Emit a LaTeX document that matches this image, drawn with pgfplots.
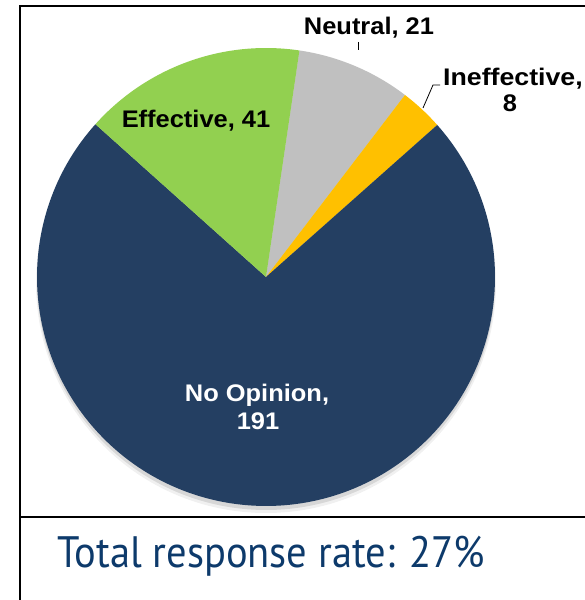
\documentclass[border=0pt]{standalone}
\usepackage{fontspec}
\setmainfont{Liberation Sans}
\newfontfamily\totfont{PT Sans}
\usepackage{pgfplots}
\usepackage{pgfplotstable}
\pgfplotsset{compat=1.18}
\definecolor{cNavy}{HTML}{243F62}
\definecolor{cGreen}{HTML}{92D050}
\definecolor{cGrey}{HTML}{C0C0C0}
\definecolor{cYellow}{HTML}{FFC000}
\definecolor{cTot}{HTML}{0D3A6B}
\pgfplotstableread{
label value
Neutral 21
Ineffective 8
NoOpinion 191
Effective 41
}\piedata
\begin{document}
\begin{tikzpicture}
\pgfplotstablegetelem{0}{value}\of\piedata\edef\vA{\pgfplotsretval}
\pgfplotstablegetelem{1}{value}\of\piedata\edef\vB{\pgfplotsretval}
\pgfplotstablegetelem{2}{value}\of\piedata\edef\vC{\pgfplotsretval}
\pgfplotstablegetelem{3}{value}\of\piedata\edef\vD{\pgfplotsretval}
\pgfmathsetmacro\tot{\vA+\vB+\vC+\vD}
\pgfmathsetmacro\unitang{360/\tot}
\pgfmathsetmacro\aA{81.6}
\pgfmathsetmacro\aB{\aA-\unitang*\vA}
\pgfmathsetmacro\aC{\aB-\unitang*\vB}
\pgfmathsetmacro\aD{\aC-\unitang*\vC}
\pgfmathsetmacro\aE{\aD-\unitang*\vD}
\begin{axis}[
  width=585pt, height=600pt, scale only axis,
  xmin=0, xmax=585, ymin=0, ymax=600, enlargelimits=false,
  axis lines=none, clip=false,
]
\fill[white] (axis cs:0,0) rectangle (axis cs:585,600);
% shadow
\fill[black,opacity=0.06] (axis cs:266,317) circle[radius=230pt];
\fill[black,opacity=0.10] (axis cs:266,319) circle[radius=229pt];
% slices
\fill[cGrey] (axis cs:266,323) -- ++(\aA:229pt) arc[start angle=\aA, end angle=\aB, radius=229pt] -- cycle;
\fill[cYellow] (axis cs:266,323) -- ++(\aB:229pt) arc[start angle=\aB, end angle=\aC, radius=229pt] -- cycle;
\fill[cNavy] (axis cs:266,323) -- ++(\aC:229pt) arc[start angle=\aC, end angle=\aD, radius=229pt] -- cycle;
\fill[cGreen] (axis cs:266,323) -- ++(\aD:229pt) arc[start angle=\aD, end angle=\aE, radius=229pt] -- cycle;
% frame
\draw[line width=2pt] (axis cs:20,0) -- (axis cs:20,594) -- (axis cs:585,594);
\draw[line width=2pt] (axis cs:20,83) -- (axis cs:585,83);
% leader lines
\draw[line width=0.8pt] (axis cs:358,558) -- (axis cs:358,550);
\draw[line width=0.8pt] (axis cs:440,515) -- (axis cs:433,515) -- (axis cs:423,492);
% labels
\begin{scope}[every node/.style={inner sep=0pt, anchor=base, font=\fontsize{24}{27}\selectfont\bfseries, xscale=1.06}]
\node at (axis cs:196,472) {Effective, 41};
\node at (axis cs:369,565) {Neutral, 21};
\node[xscale=1.05] at (axis cs:513,514) {Ineffective,};
\node at (axis cs:510,488) {8};
\node[text=white] at (axis cs:257,198) {No Opinion,};
\node[text=white] at (axis cs:258,170) {191};
\end{scope}
\node[inner sep=0pt, anchor=base, text=cTot, xscale=0.92, font=\totfont\fontsize{44}{50}\selectfont] at (axis cs:271,32) {Total response rate: 27\%};
\end{axis}
\pgfresetboundingbox
\path[use as bounding box] (0,0) rectangle (585pt,600pt);
\end{tikzpicture}
\end{document}
